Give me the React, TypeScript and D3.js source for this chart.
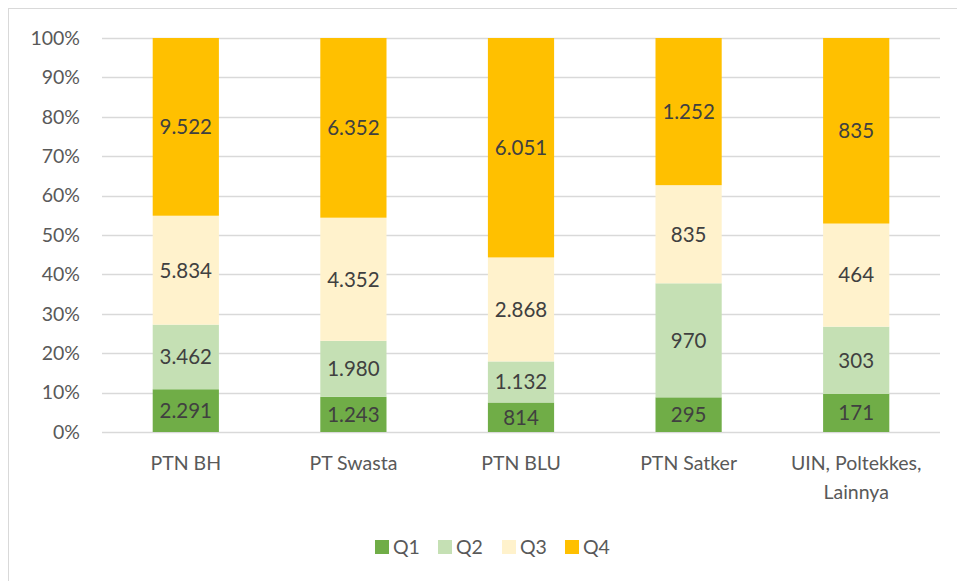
import React, { useEffect, useRef } from 'react';
import * as d3 from 'd3';

const categories = ['PTN BH', 'PT Swasta', 'PTN BLU', 'PTN Satker', 'UIN, Poltekkes, Lainnya'];
const seriesNames = ['Q1', 'Q2', 'Q3', 'Q4'];
const q1 = [2291, 1243, 814, 295, 171];
const q2 = [3462, 1980, 1132, 970, 303];
const q3 = [5834, 4352, 2868, 835, 464];
const q4 = [9522, 6352, 6051, 1252, 835];
const colors = ['#70ad47', '#c5e0b4', '#fff2cc', '#ffc000'];
const yTicks = [0, 0.1, 0.2, 0.3, 0.4, 0.5, 0.6, 0.7, 0.8, 0.9, 1];

const fmt = (v: number) => d3.format(',')(v).replace(/,/g, '.');

const App = () => {
  const svgRef = useRef<SVGSVGElement>(null);

  useEffect(() => {
    const svg = d3.select(svgRef.current);
    svg.selectAll('*').remove();
    const font = "Lato, 'Noto Sans', sans-serif";

    // chart frame
    svg.append('rect')
      .attr('x', 8.5).attr('y', 8.5)
      .attr('width', 960).attr('height', 600)
      .attr('fill', '#fff').attr('stroke', '#d9d9d9');

    const margin = { top: 38, left: 102, right: 17, bottom: 149 };
    const width = 957 - margin.left - margin.right;
    const height = 581 - margin.top - margin.bottom;

    const g = svg.append('g').attr('transform', `translate(${margin.left},${margin.top})`);

    const x = d3.scaleBand().domain(categories).range([0, width]).paddingInner(0.605).paddingOuter(0.3025);
    const y = d3.scaleLinear().domain([0, 1]).range([height, 0]);

    const rows = categories.map((c, i) => {
      const vals = [q1[i], q2[i], q3[i], q4[i]];
      const total = d3.sum(vals);
      const r: any = { cat: c };
      seriesNames.forEach((s, j) => { r[s] = vals[j] / total; r[s + '_raw'] = vals[j]; });
      return r;
    });
    const stacked = d3.stack().keys(seriesNames)(rows);

    // gridlines
    g.selectAll('.grid').data(yTicks).enter().append('line')
      .attr('x1', 0).attr('x2', width)
      .attr('y1', d => Math.round(y(d)) + 0.5).attr('y2', d => Math.round(y(d)) + 0.5)
      .attr('stroke', '#d9d9d9').attr('stroke-width', 1.3);

    g.selectAll('.ytick').data(yTicks).enter().append('text')
      .attr('x', -22).attr('y', d => y(d))
      .attr('dy', '0.35em').attr('text-anchor', 'end')
      .attr('font-family', font).attr('font-size', 19.5).attr('fill', '#595959')
      .text(d => d3.format('.0%')(d));

    stacked.forEach((layer, j) => {
      const lg = g.append('g');
      lg.selectAll('rect').data(layer).enter().append('rect')
        .attr('x', d => x((d.data as any).cat)!)
        .attr('y', d => y(d[1]))
        .attr('width', x.bandwidth())
        .attr('height', d => y(d[0]) - y(d[1]))
        .attr('fill', colors[j]);
      lg.selectAll('text').data(layer).enter().append('text')
        .attr('x', d => x((d.data as any).cat)! + x.bandwidth() / 2)
        .attr('y', d => (y(d[0]) + y(d[1])) / 2)
        .attr('dy', '0.36em').attr('text-anchor', 'middle')
        .attr('font-family', font).attr('font-size', 20.5).attr('fill', '#404040')
        .text(d => fmt((d.data as any)[seriesNames[j] + '_raw']));
    });

    // x labels
    categories.forEach(c => {
      const cx = x(c)! + x.bandwidth() / 2;
      const lines = c === 'UIN, Poltekkes, Lainnya' ? ['UIN, Poltekkes,', 'Lainnya'] : [c];
      lines.forEach((t, k) => {
        g.append('text')
          .attr('x', cx).attr('y', height + 31 + k * 29)
          .attr('dy', '0.35em').attr('text-anchor', 'middle')
          .attr('font-family', font).attr('font-size', 19.5).attr('fill', '#595959')
          .text(t);
      });
    });

    // legend
    const legendX = [375, 438, 502, 565];
    const leg = svg.append('g');
    seriesNames.forEach((s, j) => {
      leg.append('rect').attr('x', legendX[j]).attr('y', 540).attr('width', 14).attr('height', 14).attr('fill', colors[j]);
      leg.append('text').attr('x', legendX[j] + 18).attr('y', 547).attr('dy', '0.35em')
        .attr('font-family', font).attr('font-size', 19.5).attr('fill', '#595959').text(s);
    });
  }, []);

  return <svg ref={svgRef} width={957} height={581} style={{ position: 'absolute', left: 0, top: 0 }} />;
};

export default App;
